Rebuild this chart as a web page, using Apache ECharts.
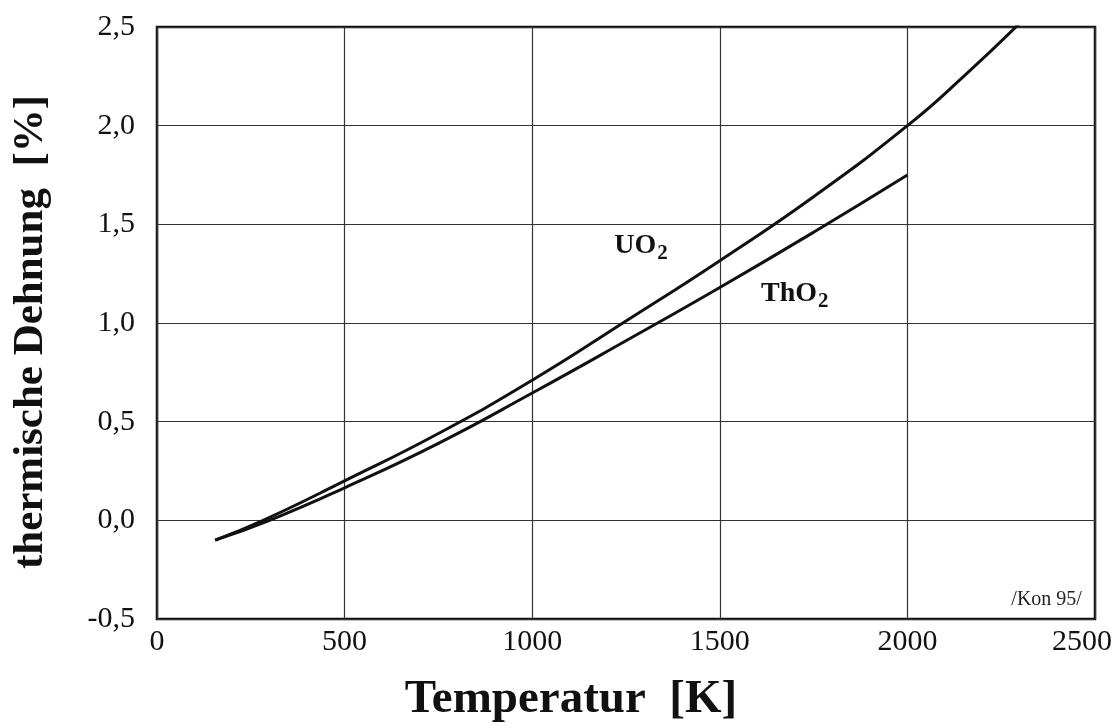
<!DOCTYPE html>
<html>
<head>
<meta charset="utf-8">
<script src="https://cdn.jsdelivr.net/npm/echarts@6/dist/echarts.min.js"></script>
<style>html,body{margin:0;padding:0;background:#fff}#c{width:1116px;height:728px}</style>
</head>
<body>
<div id="c"></div>
<script>
// Data
const uo2T   = [155, 283, 500, 750, 1000, 1250, 1500, 1750, 2000, 2150, 2300];
const uo2V   = [-0.10, 0.00, 0.20, 0.44, 0.71, 1.01, 1.316, 1.64, 2.00, 2.25, 2.52];
const tho2T  = [155, 300, 500, 750, 1000, 1250, 1500, 1750, 2000];
const tho2V  = [-0.10, 0.00, 0.165, 0.39, 0.645, 0.91, 1.18, 1.46, 1.75];
const xTicks = [0, 500, 1000, 1500, 2000, 2500];
const yTicks = [-0.5, 0.0, 0.5, 1.0, 1.5, 2.0, 2.5];
const labels = [
  {text: 'UO{s|2}',  T: 1290, v: 1.39},
  {text: 'ThO{s|2}', T: 1700, v: 1.15}
];
const sourceNote = {text: '/Kon 95/', T: 2371, v: -0.40};

const serif = '"Liberation Serif", "DejaVu Serif", serif';
const zip = (a, b) => a.map((t, i) => [t, b[i]]);
const richLbl = {
  fontFamily: serif, fontWeight: 'bold', fontSize: 28, color: '#111',
  rich: { s: {fontFamily: serif, fontWeight: 'bold', fontSize: 21, color: '#111', padding: [16, 0, 0, 1]} }
};
const lastX = xTicks[xTicks.length - 1];

const chart = echarts.init(document.getElementById('c'));
chart.setOption({
  animation: false,
  backgroundColor: '#fff',
  grid: {left: 157, right: 21, top: 27, bottom: 109, containLabel: false, outerBoundsMode: 'none',
         show: true, borderColor: '#111', borderWidth: 2.5},
  xAxis: {
    type: 'value', min: xTicks[0], max: lastX, interval: 500,
    name: 'Temperatur  [K]', nameLocation: 'middle', nameGap: 57,
    nameTextStyle: {fontFamily: serif, fontWeight: 'bold', fontSize: 47, color: '#111', padding: [0, 110, 0, 0]},
    axisLine: {show: false}, axisTick: {show: false},
    axisLabel: {fontFamily: serif, fontSize: 30, color: '#111', margin: 8,
      formatter: v => v === lastX ? '{last|' + v + '}' : String(v),
      rich: {last: {fontFamily: serif, fontSize: 30, color: '#111', padding: [0, 26, 0, 0]}}},
    splitLine: {show: true, lineStyle: {color: '#333', width: 1.2}}
  },
  yAxis: {
    type: 'value', min: yTicks[0], max: yTicks[yTicks.length - 1], interval: 0.5,
    name: 'thermische Dehnung  [%]', nameLocation: 'middle', nameGap: 105,
    nameTextStyle: {fontFamily: serif, fontWeight: 'bold', fontSize: 43, color: '#111', padding: [0, 18, 0, 0]},
    axisLine: {show: false}, axisTick: {show: false},
    axisLabel: {fontFamily: serif, fontSize: 30, color: '#111', margin: 22,
      formatter: v => v.toFixed(1).replace('.', ',')},
    splitLine: {show: true, lineStyle: {color: '#333', width: 1.2}}
  },
  series: [
    {
      name: 'UO2', type: 'line', smooth: 0.5, showSymbol: false, clip: true,
      data: zip(uo2T, uo2V),
      lineStyle: {color: '#111', width: 3},
      markPoint: {
        symbol: 'circle', symbolSize: 0,
        label: Object.assign({show: true, formatter: labels[0].text}, richLbl),
        data: [{coord: [labels[0].T, labels[0].v]}]
      }
    },
    {
      name: 'ThO2', type: 'line', smooth: 0.5, showSymbol: false, clip: true,
      data: zip(tho2T, tho2V),
      lineStyle: {color: '#111', width: 3},
      markPoint: {
        symbol: 'circle', symbolSize: 0,
        label: Object.assign({show: true, formatter: labels[1].text}, richLbl),
        data: [{coord: [labels[1].T, labels[1].v]}]
      }
    },
    {
      name: 'note', type: 'scatter', symbolSize: 0, data: [],
      markPoint: {
        symbol: 'circle', symbolSize: 0,
        label: {show: true, formatter: sourceNote.text, fontFamily: serif, fontSize: 20, color: '#222'},
        data: [{coord: [sourceNote.T, sourceNote.v]}]
      }
    }
  ]
});
</script>
</body>
</html>
